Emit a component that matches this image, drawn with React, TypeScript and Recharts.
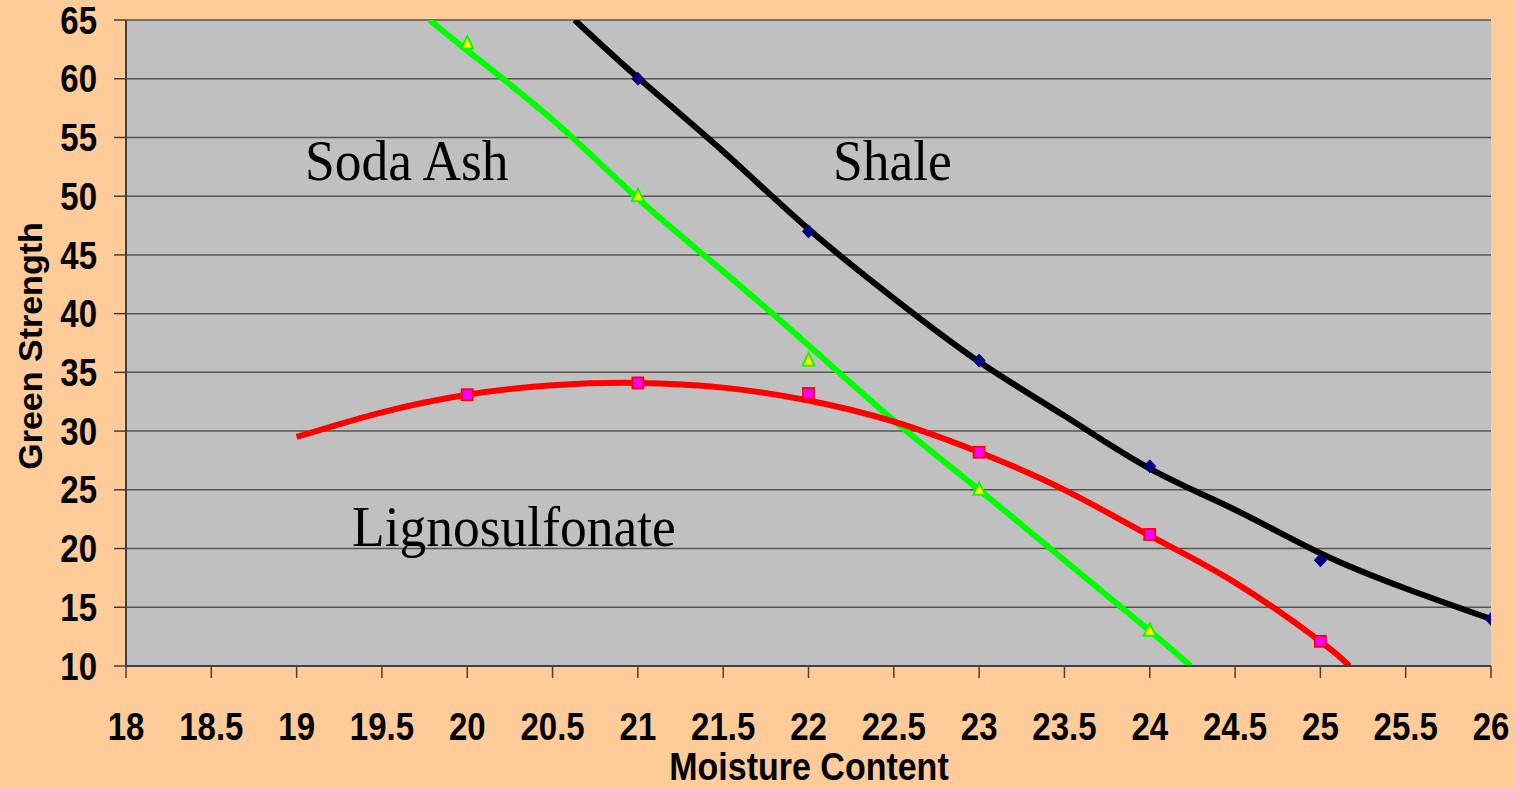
import React from "react";
import {
  ComposedChart,
  Line,
  Scatter,
  XAxis,
  YAxis,
  CartesianGrid,
  Customized,
} from "recharts";

// ---- tick labels ----
const xTicks = [18, 18.5, 19, 19.5, 20, 20.5, 21, 21.5, 22, 22.5, 23, 23.5, 24, 24.5, 25, 25.5, 26];
const yTicks = [10, 15, 20, 25, 30, 35, 40, 45, 50, 55, 60, 65];

// ---- measured points (markers) ----
const shalePtX = [21, 22, 23, 24, 25, 26];
const shalePtY = [60, 47, 36, 27, 19, 14];
const sodaPtX = [20, 21, 22, 23, 24];
const sodaPtY = [63, 50, 36, 25, 13];
const lignoPtX = [20, 21, 22, 23, 24, 25];
const lignoPtY = [33.1, 34.1, 33.2, 28.2, 21.2, 12.1];

// ---- trend lines ----
const shaleLineX = [20.63, 21, 21.5, 22, 22.5, 23, 23.5, 24, 24.5, 25, 25.5, 26];
const shaleLineY = [65, 60.1, 53.8, 47.2, 41.3, 35.9, 31.3, 26.8, 23.3, 19.6, 16.6, 14.0];
const sodaLineX = [19.78, 20, 20.5, 21, 21.5, 22, 22.5, 23, 23.5, 24, 24.24];
const sodaLineY = [65, 62.4, 56.5, 49.8, 43.6, 37.3, 30.9, 25.0, 19.0, 13.0, 10];
const lignoLineX = [19, 19.5, 20, 20.5, 21, 21.5, 22, 22.5, 23, 23.5, 24, 24.5, 25, 25.17];
const lignoLineY = [29.5, 31.6, 33.1, 33.9, 34.1, 33.7, 32.6, 30.8, 28.2, 25.0, 21.1, 17.1, 12.1, 10];

const zip = (xs: number[], ys: number[]) => xs.map((x, i) => ({ x, y: ys[i] }));

const shalePts = zip(shalePtX, shalePtY);
const sodaPts = zip(sodaPtX, sodaPtY);
const lignoPts = zip(lignoPtX, lignoPtY);
const shaleLine = zip(shaleLineX, shaleLineY);
const sodaLine = zip(sodaLineX, sodaLineY);
const lignoLine = zip(lignoLineX, lignoLineY);

const SANS = "'Liberation Sans', Arial, sans-serif";
const SERIF = "'Liberation Serif', 'Times New Roman', serif";

const Diamond = (p: any) => {
  const { cx, cy } = p;
  if (cx == null || cy == null) return null;
  return (
    <path
      d={`M${cx},${cy - 6.5} L${cx + 6},${cy} L${cx},${cy + 6.5} L${cx - 6},${cy} Z`}
      fill="#000080"
      stroke="#000080"
      strokeWidth={1}
    />
  );
};

const Triangle = (p: any) => {
  const { cx, cy } = p;
  if (cx == null || cy == null) return null;
  return (
    <path
      d={`M${cx},${cy - 7.5} L${cx + 6},${cy + 5} L${cx - 6},${cy + 5} Z`}
      fill="#FFFF00"
      stroke="#00FF00"
      strokeWidth={1.8}
    />
  );
};

const Square = (p: any) => {
  const { cx, cy } = p;
  if (cx == null || cy == null) return null;
  return (
    <rect x={cx - 5.5} y={cy - 5.5} width={11} height={11} fill="#FF00FF" stroke="#FF0000" strokeWidth={1.8} />
  );
};

const XTick = (p: any) => {
  const { x, y, payload } = p;
  return (
    <text
      transform={`translate(${x},${y}) scale(1,1.15)`}
      textAnchor="middle"
      dy="0.71em"
      fontFamily={SANS}
      fontWeight="bold"
      fontSize={33}
      fill="#000"
    >
      {payload.value}
    </text>
  );
};

const YTick = (p: any) => {
  const { x, y, payload } = p;
  return (
    <text
      transform={`translate(${x},${y}) scale(1,1.15)`}
      textAnchor="end"
      dy="0.36em"
      fontFamily={SANS}
      fontWeight="bold"
      fontSize={33}
      fill="#000"
    >
      {payload.value}
    </text>
  );
};

const Annotations = () => (
  <g>
    <text transform="translate(305,180) scale(1,1.07)" fontFamily={SERIF} fontSize={53.5} fill="#000">
      Soda Ash
    </text>
    <text transform="translate(833,180) scale(1,1.07)" fontFamily={SERIF} fontSize={53.5} fill="#000">
      Shale
    </text>
    <text transform="translate(352,546) scale(1,1.07)" fontFamily={SERIF} fontSize={53.5} fill="#000">
      Lignosulfonate
    </text>
    <text
      transform="translate(809,780) scale(1,1.12)"
      textAnchor="middle"
      fontFamily={SANS}
      fontWeight="bold"
      fontSize={34}
      fill="#000"
    >
      Moisture Content
    </text>
    <text
      transform="translate(42,346) rotate(-90)"
      textAnchor="middle"
      fontFamily={SANS}
      fontWeight="bold"
      fontSize={34}
      fill="#000"
    >
      Green Strength
    </text>
  </g>
);

export default function App() {
  return (
    <div
      style={{
        position: "absolute",
        left: 0,
        top: 0,
        width: 1516,
        height: 787,
        background: "#FFCC99",
      }}
    >
      <ComposedChart width={1516} height={787} margin={{ top: 20, right: 25, bottom: 0, left: 26 }}>
        <CartesianGrid
          vertical={false}
          horizontal={true}
          stroke="#555555"
          strokeWidth={1.5}
          fill="#C0C0C0"
          fillOpacity={1}
        />
        <XAxis
          type="number"
          dataKey="x"
          domain={[18, 26]}
          ticks={xTicks}
          allowDataOverflow
          height={121}
          tickSize={12}
          tickMargin={35}
          tick={<XTick />}
          axisLine={{ stroke: "#404040", strokeWidth: 2 }}
          tickLine={{ stroke: "#404040", strokeWidth: 1.5 }}
          interval={0}
        />
        <YAxis
          type="number"
          dataKey="y"
          domain={[10, 65]}
          ticks={yTicks}
          allowDataOverflow
          width={100}
          tickSize={12}
          tickMargin={17}
          tick={<YTick />}
          axisLine={{ stroke: "#404040", strokeWidth: 2 }}
          tickLine={{ stroke: "#404040", strokeWidth: 1.5 }}
          interval={0}
        />
        <Scatter data={shalePts} dataKey="y" shape={<Diamond />} isAnimationActive={false} />
        <Scatter data={sodaPts} dataKey="y" shape={<Triangle />} isAnimationActive={false} />
        <Scatter data={lignoPts} dataKey="y" shape={<Square />} isAnimationActive={false} />
        <Line
          data={shaleLine}
          dataKey="y"
          type="natural"
          stroke="#000000"
          strokeWidth={6}
          dot={false}
          activeDot={false}
          isAnimationActive={false}
        />
        <Line
          data={sodaLine}
          dataKey="y"
          type="natural"
          stroke="#00FF00"
          strokeWidth={6}
          dot={false}
          activeDot={false}
          isAnimationActive={false}
        />
        <Line
          data={lignoLine}
          dataKey="y"
          type="natural"
          stroke="#FF0000"
          strokeWidth={6}
          dot={false}
          activeDot={false}
          isAnimationActive={false}
        />
        <Customized component={Annotations} />
      </ComposedChart>
    </div>
  );
}
